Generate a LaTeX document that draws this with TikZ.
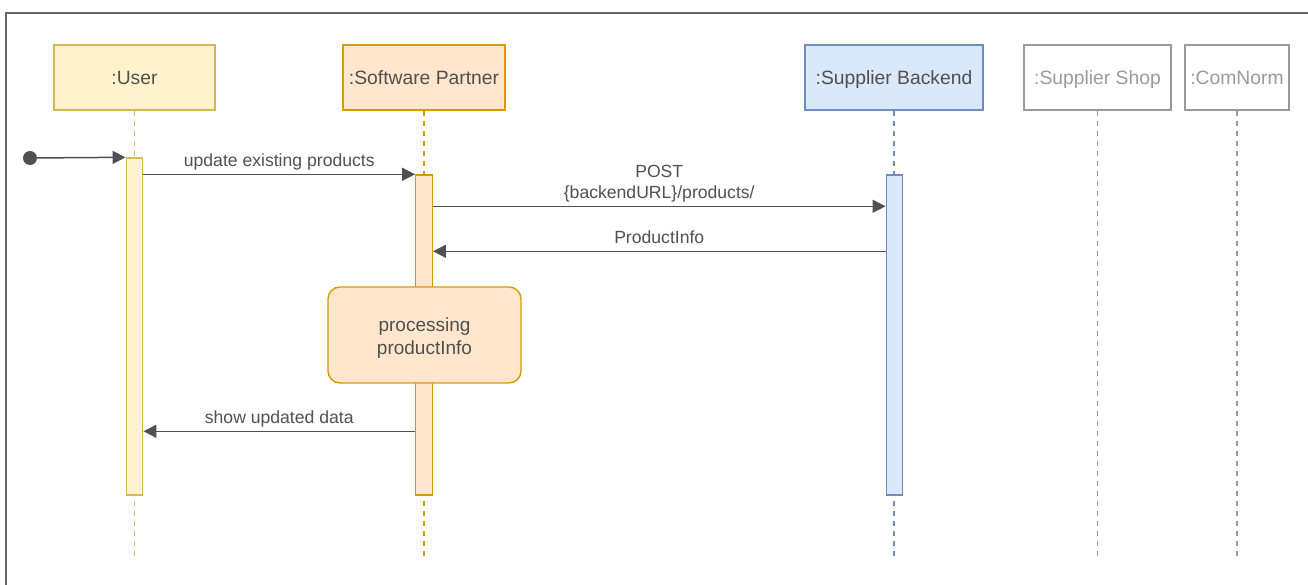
\documentclass[tikz,border=0pt]{standalone}
\usepackage{fontspec}
\setmainfont{Liberation Sans}
\usetikzlibrary{arrows.meta}
\definecolor{txt}{HTML}{505050}
\definecolor{ufill}{HTML}{FFF2CC}
\definecolor{ustroke}{HTML}{D6B656}
\definecolor{sfill}{HTML}{FFE6CC}
\definecolor{sstroke}{HTML}{D79B00}
\definecolor{bfill}{HTML}{DAE8FC}
\definecolor{bstroke}{HTML}{6C8EBF}
\definecolor{grey}{HTML}{9A9A9A}
\definecolor{frame}{HTML}{666666}
\tikzset{
  head/.style={rectangle, line width=1.4pt, minimum height=65pt, inner sep=0pt,
    font=\fontsize{19.3}{23}\selectfont, text=txt, text height=17pt, text depth=3pt},
  actbar/.style={rectangle, line width=1.4pt, minimum width=16.5pt, inner sep=0pt},
  lifeline/.style={line width=1.6pt, dash pattern=on 5pt off 5pt},
  msg/.style={draw=txt, line width=1.5pt, -{Triangle[length=13pt,width=13pt]}},
  lbl/.style={font=\fontsize{17.6}{21}\selectfont, text=txt, inner sep=3pt,
    text depth=4pt, align=center},
}
\begin{document}
\begin{tikzpicture}[x=1pt,y=-1pt]
\useasboundingbox (0,0) rectangle (1308,585);
% frame
\draw[frame, line width=2pt] (6,600) -- (6,13) -- (1320,13);

% heads
\node[head, fill=ufill, draw=ustroke, minimum width=161pt] (user) at (134.5,77.5) {:User};
\node[head, fill=sfill, draw=sstroke, minimum width=162pt] (sp) at (424,77.5) {:Software Partner};
\node[head, fill=bfill, draw=bstroke, minimum width=178pt] (sb) at (894,77.5) {:Supplier Backend};
\node[head, draw=grey, text=grey, minimum width=147pt] (ss) at (1097.5,77.5) {:Supplier Shop};
\node[head, draw=grey, text=grey, minimum width=104pt] (cn) at (1237,77.5) {:ComNorm};

% lifeline ends
\coordinate (userend) at (134.5,558);
\coordinate (spend) at (424,558);
\coordinate (sbend) at (894,558);
\coordinate (ssend) at (1097.5,558);
\coordinate (cnend) at (1237,558);

\draw[lifeline, draw=ustroke] (user.south) -- (userend);
\draw[lifeline, draw=sstroke] (sp.south) -- (spend);
\draw[lifeline, draw=bstroke] (sb.south) -- (sbend);
\draw[lifeline, draw=grey] (ss.south) -- (ssend);
\draw[lifeline, draw=grey] (cn.south) -- (cnend);

% activation bars
\node[actbar, fill=ufill, draw=ustroke, minimum height=337pt] (ua) at (134.5,326.5) {};
\node[actbar, fill=sfill, draw=sstroke, minimum height=320pt] (spa) at (424,335) {};
\node[actbar, fill=bfill, draw=bstroke, minimum height=320pt] (sba) at (894.5,335) {};

% processing box
\node[rectangle, rounded corners=12pt, fill=sfill, draw=sstroke, line width=1.4pt,
  minimum width=193pt, minimum height=96pt] (proc) at (424.5,335) {};
\node[align=center, text=txt, inner sep=0pt, font=\fontsize{19}{23}\selectfont]
  (proctext) at ([yshift=-3pt]proc.center) {processing\\productInfo};

% start dot
\node[circle, fill=txt, inner sep=0pt, minimum size=14pt] (start) at (30,158) {};
\draw[msg] (start.center) -- (ua.north west);

% messages
\draw[msg] (ua.east |- spa.north) -- node[lbl, above=0pt] {update existing products} (spa.north west);
\draw[msg] ([yshift=-32pt]spa.north east) -- node[lbl, above=0pt] {POST\\\{backendURL\}/products/} ([yshift=-32pt]sba.north west);
\draw[msg] ([yshift=-77pt]sba.north west) -- node[lbl, above=0pt] {ProductInfo} ([yshift=-77pt]spa.north east);
\draw[msg] ([yshift=-257pt]spa.north west) -- node[lbl, above=0pt] {show updated data} ([yshift=-257pt]spa.north west -| ua.east);
\end{tikzpicture}
\end{document}
